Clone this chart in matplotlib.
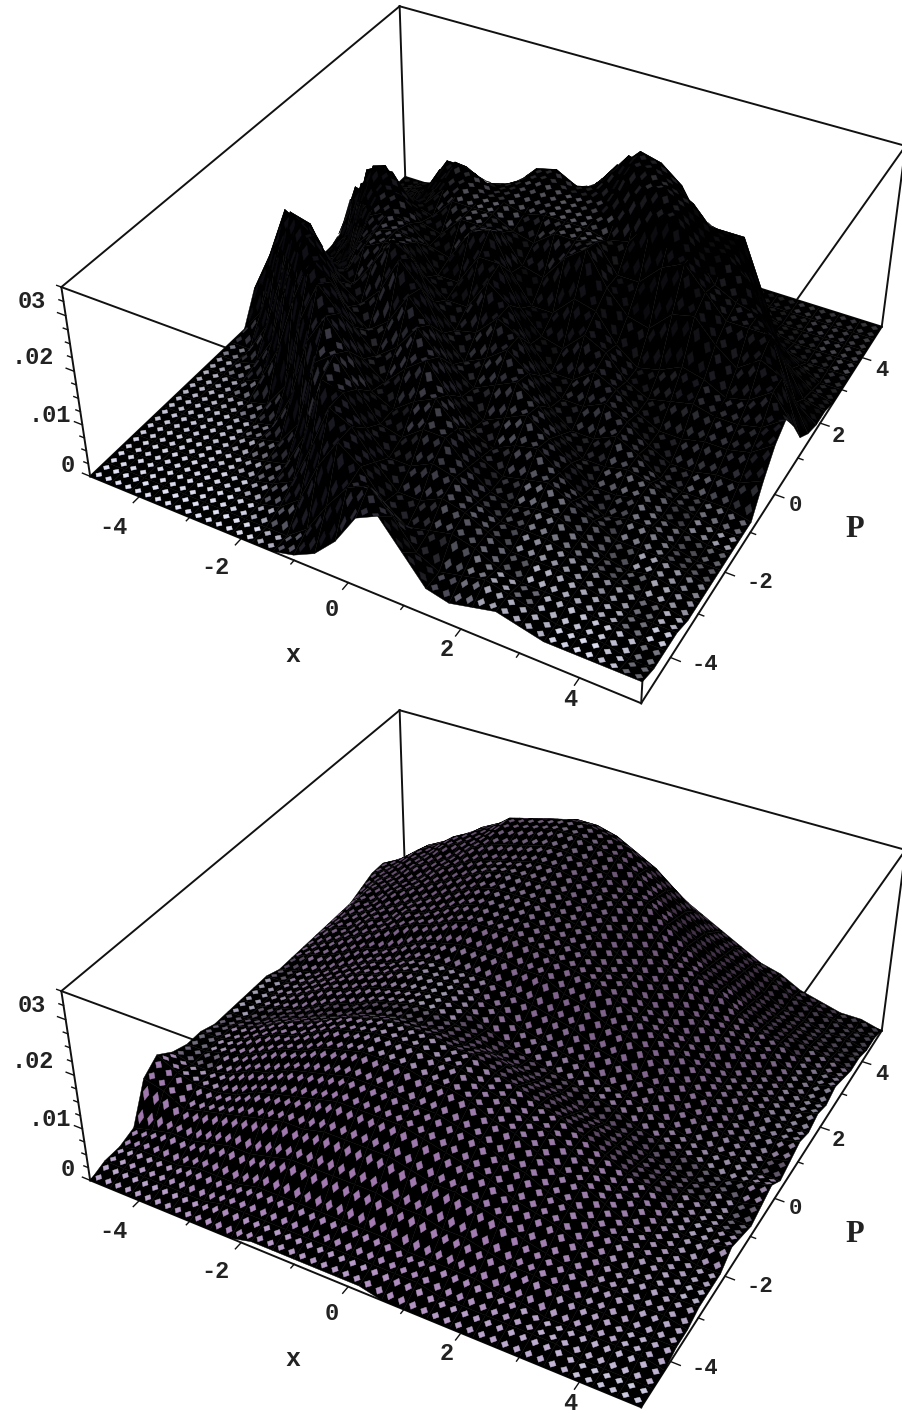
import numpy as np
import matplotlib
matplotlib.use("Agg")
import matplotlib.pyplot as plt
from mpl_toolkits.mplot3d.art3d import Poly3DCollection

# grid of the two surfaces
x_vals = [-5,-4.6,-4.2,-3.8,-3.4,-3,-2.6,-2.2,-1.8,-1.4,-1,-.6,-.2,.2,.6,1,1.4,1.8,2.2,2.6,3,3.4,3.8,4.2,4.6,5]
p_vals = x_vals

# heights, in units of 0.001, one row per p
z_top = [
[0,0,0,0,0,0,0,0,0,0,1,3,7,13,15,10,5,4,5,6,5,4,4,4,4,4],
[0,0,0,0,0,0,0,0,0,0,3,9,14,16,12,7,5,6,7,6,5,4,4,4,3,3],
[0,0,0,0,0,0,0,0,1,4,12,18,15,10,7,8,9,8,6,5,5,5,4,4,3,3],
[0,0,0,0,0,0,0,1,3,11,20,18,13,9,9,11,10,8,6,6,6,5,4,3,3,3],
[0,0,0,0,0,0,1,2,9,21,20,15,11,11,13,12,9,7,7,7,6,5,4,3,3,2],
[0,0,0,0,0,1,2,7,20,23,18,13,12,15,15,11,8,7,8,8,6,4,3,4,3,2],
[0,0,0,0,0,1,8,20,26,21,15,13,16,18,14,10,8,9,10,8,6,4,4,4,3,2],
[0,0,0,0,1,6,20,28,24,17,14,18,21,16,11,9,11,12,9,6,4,5,5,3,2,2],
[0,0,0,2,9,20,29,26,19,15,18,23,19,13,10,12,14,11,8,5,5,6,4,3,2,2],
[0,0,1,7,20,30,26,19,16,19,25,21,15,12,14,16,13,9,6,6,7,6,4,3,2,2],
[0,0,6,17,29,27,20,17,21,28,24,17,13,15,18,15,10,7,7,9,7,4,3,3,3,2],
[0,5,16,27,26,19,17,22,28,26,19,15,16,20,18,12,9,9,11,9,6,4,4,5,5,7],
[6,14,24,22,17,16,22,24,25,20,17,17,23,20,14,10,10,13,11,8,6,6,7,7,8,11],
[3,16,18,13,12,19,23,24,23,18,18,24,24,17,13,12,16,14,10,8,9,10,9,9,10,13],
[10,12,8,9,14,22,24,23,20,19,25,27,20,15,15,19,18,13,10,11,13,12,10,11,14,9],
[3,3,4,8,20,25,25,21,20,24,24,24,19,18,23,26,20,16,15,19,20,16,13,16,14,4],
[1,2,5,15,26,26,21,20,24,24,24,22,21,24,24,25,20,20,24,26,22,18,18,18,9,2],
[0,2,8,22,24,19,19,23,25,24,24,23,24,24,24,23,24,29,31,26,21,19,18,14,4,1],
[0,4,16,18,14,15,20,26,25,23,24,24,24,24,24,26,31,33,30,25,24,21,15,8,2,1],
[1,12,11,9,11,17,23,23,21,22,24,25,24,24,25,32,33,31,29,25,23,17,8,4,1,0],
[6,6,5,6,9,18,19,16,17,20,24,25,23,24,29,33,32,29,23,23,23,14,5,2,0,0],
[3,3,3,5,12,13,11,12,15,19,20,18,20,24,29,28,25,21,17,15,9,3,1,0,0,0],
[1,2,3,8,9,7,8,11,15,14,12,14,19,24,23,18,14,13,12,7,3,1,0,0,0,0],
[1,1,4,6,5,5,7,9,10,8,8,11,14,16,13,10,8,8,5,2,1,0,0,0,0,0],
[0,1,2,3,3,3,4,5,5,5,5,7,9,8,6,5,4,3,2,1,0,0,0,0,0,0],
[0,0,1,1,1,1,2,2,2,2,3,3,4,3,3,2,2,1,1,0,0,0,0,0,0,0],
]
z_bottom = [
[0,0,0,0,0,0,0,0,1,1,1,1,1,1,0,0,0,0,0,0,0,0,0,0,0,0],
[1,1,1,1,1,1,2,2,2,2,2,2,2,2,2,2,1,1,1,1,1,1,0,0,0,0],
[1,2,2,2,3,3,3,4,4,4,4,4,4,4,3,3,3,3,2,2,1,1,1,1,1,0],
[2,3,4,4,5,6,6,7,8,8,8,8,8,7,7,6,6,5,4,4,3,2,2,1,1,1],
[9,8,6,7,8,9,10,11,11,12,12,12,12,11,10,10,9,8,6,5,4,3,3,2,2,1],
[11,9,8,8,9,11,12,13,14,15,15,15,15,14,13,12,11,9,8,7,5,4,3,3,2,2],
[9,8,8,9,11,12,14,15,16,17,17,17,16,16,15,14,12,11,9,8,6,5,4,3,2,2],
[8,8,9,10,12,14,15,17,18,19,19,19,18,18,17,15,14,12,10,9,7,5,4,3,2,2],
[8,8,9,11,13,14,16,18,19,20,20,20,19,19,17,16,14,13,11,9,7,6,4,3,3,4],
[7,8,9,11,13,14,16,18,19,20,20,20,19,19,17,16,14,13,11,9,7,6,4,3,3,3],
[7,7,8,10,11,13,14,16,17,18,18,18,17,17,16,14,13,11,10,8,6,5,4,3,2,2],
[7,7,8,9,11,13,14,16,17,18,18,17,16,14,13,12,11,9,8,7,5,4,3,3,2,3],
[7,7,8,10,12,13,15,16,17,18,18,17,15,13,12,11,10,9,8,6,5,4,3,2,3,4],
[7,7,8,10,12,14,15,17,18,18,18,17,16,14,13,12,11,9,8,7,5,4,3,3,2,2],
[6,7,8,10,12,14,15,17,18,18,18,18,17,16,15,14,12,11,9,8,6,5,4,3,2,3],
[6,8,9,11,13,14,16,18,19,20,20,20,19,19,17,16,14,13,11,9,7,6,4,3,3,4],
[6,8,10,12,14,16,18,19,21,22,22,22,21,20,19,18,16,14,12,10,8,6,5,4,3,3],
[6,9,10,13,14,17,18,20,22,23,23,23,22,21,20,18,17,14,12,10,8,6,5,4,3,4],
[6,9,11,13,15,17,19,21,23,24,24,24,23,22,21,19,17,15,13,11,9,7,5,4,3,3],
[6,10,11,14,16,18,20,22,24,25,25,25,24,23,22,20,18,16,14,11,9,7,6,4,3,4],
[6,10,12,14,16,19,21,23,24,25,26,26,25,24,23,21,19,16,14,12,9,7,6,4,3,3],
[7,10,12,15,17,19,22,24,25,26,27,27,26,25,23,22,19,16,13,11,8,6,5,4,3,2],
[8,10,13,15,18,20,22,25,26,27,28,28,27,26,24,21,18,15,12,10,7,5,4,3,2,2],
[8,10,13,15,18,20,22,25,26,27,28,28,27,26,23,20,17,14,11,9,6,4,3,2,2,1],
[6,9,12,14,16,19,21,23,24,25,26,26,25,23,21,18,15,12,10,8,6,4,3,2,1,1],
[4,7,9,12,13,15,17,18,20,21,21,21,20,18,16,14,12,10,8,6,5,3,2,1,1,0],
]

x_ticks = [-4,-2,0,2,4]
p_ticks = [-4,-2,0,2,4]
z_labels = ['0','.01','.02','03']

W, H = 903, 1414
fig = plt.figure(figsize=(W/100,H/100), dpi=100)
mono = {'family':'Liberation Mono','weight':'bold','color':'#222222'}
serif = {'family':'Liberation Serif','weight':'bold','color':'#222222'}
line = {'color':'#111111','clip_on':False}

def bilin(c, u, w):
    return (1-u)*(1-w)*c[0] + u*(1-w)*c[1] + u*w*c[2] + (1-u)*w*c[3]

def draw_panel(z, dy, mid, light, k, away, fade):
    # view found by fitting the box corners
    l = 67.34; r = 918.4; top = -124.05 + dy; bot = 765.04 + dy
    ax = fig.add_axes([l/W, 1-bot/H, (r-l)/W, (bot-top)/H], projection='3d')
    ax.apply_aspect = lambda position=None: None
    ax.patch.set_visible(False)
    ax.set_box_aspect((1,1,.3641))
    ax.view_init(35.94,-61.23)
    ax.set_proj_type('persp',focal_length=.4352)
    ax.set_xlim(-5,5); ax.set_ylim(-5,5); ax.set_zlim(0,.035)
    ax.set_axis_off()
    ax.computed_zorder = False

    # box goes under the surface
    zt = .035
    for a,b in [((-5,-5),(5,-5)),((5,-5),(5,5)),((5,5),(-5,5)),((-5,5),(-5,-5))]:
        ax.plot([a[0],b[0]],[a[1],b[1]],[0,0],lw=1.4,zorder=1,**line)
        ax.plot([a[0],b[0]],[a[1],b[1]],[zt,zt],lw=1.4,zorder=1,**line)
        ax.plot([a[0],a[0]],[a[1],a[1]],[0,zt],lw=1.4,zorder=1,**line)

    # tick marks
    for t in np.arange(-4,5):
        ln = .16 if t % 2 == 0 else .09
        ax.plot([t,t],[-5,-5-ln],[0,0],lw=1,zorder=1,**line)
        ax.plot([5,5+ln],[t,t],[0,0],lw=1,zorder=1,**line)
    for t in np.arange(0,.035,.0025):
        ln = .16 if round(t*1000) % 10 == 0 else .09
        ax.plot([-5,-5-ln],[-5,-5],[t,t],lw=1,zorder=1,**line)

    # surface: black cells with small light dots on them, like the old raster look
    xs = np.array(x_vals); ps = np.array(p_vals); Z = np.array(z,float)
    gp, gx = np.gradient(Z)
    f = 1/(1+(np.hypot(gx,gp)/k)**2)
    mid = np.array(mid)/255; light = np.array(light)/255
    polys = []; faces = []; edges = []
    d = .15
    for j in range(len(ps)-1):
        for i in range(len(xs)-1):
            c = [np.array(q) for q in [(xs[i],ps[j],Z[j,i]*1e-3),(xs[i+1],ps[j],Z[j,i+1]*1e-3),
                                       (xs[i+1],ps[j+1],Z[j+1,i+1]*1e-3),(xs[i],ps[j+1],Z[j+1,i]*1e-3)]]
            polys.append(c); faces.append((0,0,0,1)); edges.append((0,0,0,1))
            ff = (f[j,i]+f[j,i+1]+f[j+1,i]+f[j+1,i+1])/4
            col = mid + (light-mid)*ff
            col = col*(1-fade*(ps[j]+5)/10)
            if gp[j,i] < 0:
                col = col*away
            for u in (.25,.75):
                for w in (.25,.75):
                    polys.append([bilin(c,u-d,w),bilin(c,u,w-d),bilin(c,u+d,w),bilin(c,u,w+d)])
                    faces.append((*col,1)); edges.append((*col,1))
    surf = Poly3DCollection(polys,facecolors=faces,edgecolors=edges,linewidths=.3,zsort='max',zorder=2)
    ax.add_collection3d(surf,autolim=False)

    # tick labels, set by hand like the original
    for s,px,py in zip(z_labels,[68,50,33,32],[465,415,358,302]):
        fig.text(px/W,1-(py+dy)/H,s,fontsize=17,ha='center',va='center',**mono)
    for t,px,py in zip(x_ticks,[113,215,332,447,570],[527,568,610,650,700]):
        fig.text(px/W,1-(py+dy)/H,str(t),fontsize=17,ha='center',va='center',**mono)
    for t,px,py in zip(p_ticks,[705,760,795,838,882],[665,582,505,437,370]):
        fig.text(px/W,1-(py+dy)/H,str(t),fontsize=16,ha='center',va='center',**mono)
    fig.text(293/W,1-(655+dy)/H,'x',fontsize=18,ha='center',va='center',**mono)
    fig.text(855/W,1-(530+dy)/H,'P',fontsize=22,ha='center',va='center',**serif)
    return ax

draw_panel(z_top,0,(9,8,16),(225,225,245),1.5,.6,.8)
draw_panel(z_bottom,704,(165,120,180),(205,205,225),1.0,.65,.45)
fig.savefig('out.png',dpi=100)
